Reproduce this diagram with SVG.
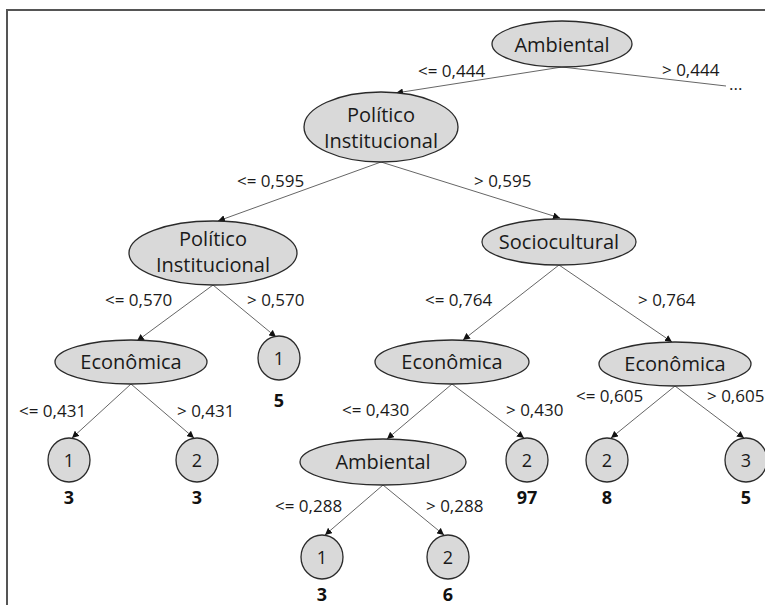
<svg xmlns="http://www.w3.org/2000/svg" width="765" height="605" viewBox="0 0 765 605">
  <defs>
    <marker id="arrow" viewBox="0 0 10 10" refX="10" refY="5" markerWidth="7" markerHeight="7" markerUnits="userSpaceOnUse" orient="auto">
      <path d="M0,0 L10,5 L0,10 Z" fill="#111"/>
    </marker>
  </defs>
  <style>
    .node { fill: #d9d9d9; stroke: #2a2a2a; stroke-width: 1.3; }
    .lbl { font-family: "Open Sans", "Noto Sans", sans-serif; font-size: 20px; fill: #1a1a1a; text-anchor: middle; }
    .leaf { font-family: "Open Sans", "Noto Sans", sans-serif; font-size: 18px; fill: #1a1a1a; text-anchor: middle; }
    .cnt { font-family: "Open Sans", "Noto Sans", sans-serif; font-size: 18px; font-weight: bold; fill: #111; text-anchor: middle; }
    .cond { font-family: "Open Sans", "Noto Sans", sans-serif; font-size: 17px; fill: #1a1a1a; }
    .edge { stroke: #666; stroke-width: 1; fill: none; }
    .arr { marker-end: url(#arrow); }
  </style>
  <rect width="765" height="605" fill="#fff"/>
  <!-- frame -->
  <path d="M7,605 L7,10 L765,10" fill="none" stroke="#555" stroke-width="2"/>

  <g id="connectors">
    <line class="edge arr" x1="562" y1="67" x2="396" y2="93"/>
    <line class="edge" x1="562" y1="67" x2="726" y2="86"/>
    <line class="edge arr" x1="381" y1="162" x2="218" y2="221"/>
    <line class="edge arr" x1="381" y1="162" x2="560" y2="218"/>
    <line class="edge arr" x1="213" y1="285" x2="137" y2="341"/>
    <line class="edge arr" x1="213" y1="285" x2="276" y2="337"/>
    <line class="edge arr" x1="559" y1="265" x2="463" y2="340"/>
    <line class="edge arr" x1="559" y1="265" x2="672" y2="342"/>
    <line class="edge arr" x1="131" y1="384" x2="72" y2="438"/>
    <line class="edge arr" x1="131" y1="384" x2="194" y2="438"/>
    <line class="edge arr" x1="452" y1="384" x2="387" y2="439"/>
    <line class="edge arr" x1="452" y1="384" x2="524" y2="438"/>
    <line class="edge arr" x1="675" y1="386" x2="611" y2="438"/>
    <line class="edge arr" x1="675" y1="386" x2="744" y2="438"/>
    <line class="edge arr" x1="383" y1="485" x2="325" y2="535"/>
    <line class="edge arr" x1="383" y1="485" x2="444" y2="535"/>
  </g>

  <g id="conditions">
    <text class="cond" x="418" y="77">&lt;= 0,444</text>
    <text class="cond" x="662" y="76">&gt; 0,444</text>
    <text class="cond" x="729" y="90">...</text>
    <text class="cond" x="237" y="187">&lt;= 0,595</text>
    <text class="cond" x="474" y="187">&gt; 0,595</text>
    <text class="cond" x="105" y="306">&lt;= 0,570</text>
    <text class="cond" x="247" y="306">&gt; 0,570</text>
    <text class="cond" x="425" y="306">&lt;= 0,764</text>
    <text class="cond" x="638" y="306">&gt; 0,764</text>
    <text class="cond" x="19" y="417">&lt;= 0,431</text>
    <text class="cond" x="177" y="417">&gt; 0,431</text>
    <text class="cond" x="342" y="416">&lt;= 0,430</text>
    <text class="cond" x="506" y="416">&gt; 0,430</text>
    <text class="cond" x="576" y="402">&lt;= 0,605</text>
    <text class="cond" x="707" y="402">&gt; 0,605</text>
    <text class="cond" x="275" y="512">&lt;= 0,288</text>
    <text class="cond" x="426" y="512">&gt; 0,288</text>
  </g>

  <g id="n-ambiental-root">
    <ellipse class="node" cx="562" cy="44" rx="70" ry="23"/>
    <text class="lbl" x="562" y="52">Ambiental</text>
  </g>
  <g id="n-politico-1">
    <ellipse class="node" cx="381" cy="127" rx="77" ry="35"/>
    <text class="lbl" x="381" y="122">Político</text>
    <text class="lbl" x="381" y="148">Institucional</text>
  </g>
  <g id="n-politico-2">
    <ellipse class="node" cx="213" cy="253" rx="84" ry="32"/>
    <text class="lbl" x="213" y="246">Político</text>
    <text class="lbl" x="213" y="272">Institucional</text>
  </g>
  <g id="n-sociocultural">
    <ellipse class="node" cx="559" cy="242" rx="77" ry="23"/>
    <text class="lbl" x="559" y="249">Sociocultural</text>
  </g>
  <g id="n-economica-left">
    <ellipse class="node" cx="131" cy="362" rx="76" ry="22"/>
    <text class="lbl" x="131" y="369">Econômica</text>
  </g>
  <g id="n-economica-mid">
    <ellipse class="node" cx="452" cy="362" rx="77" ry="22"/>
    <text class="lbl" x="452" y="369">Econômica</text>
  </g>
  <g id="n-economica-right">
    <ellipse class="node" cx="675" cy="364" rx="76" ry="22"/>
    <text class="lbl" x="675" y="371">Econômica</text>
  </g>
  <g id="n-ambiental-2">
    <ellipse class="node" cx="383" cy="462" rx="83" ry="23"/>
    <text class="lbl" x="383" y="469">Ambiental</text>
  </g>

  <g id="leaf-a">
    <ellipse class="node" cx="279" cy="358" rx="21" ry="22"/>
    <text class="leaf" x="279" y="365">1</text>
    <text class="cnt" x="279" y="407">5</text>
  </g>
  <g id="leaf-b">
    <ellipse class="node" cx="69" cy="460" rx="21" ry="22"/>
    <text class="leaf" x="69" y="467">1</text>
    <text class="cnt" x="69" y="504">3</text>
  </g>
  <g id="leaf-c">
    <ellipse class="node" cx="197" cy="460" rx="21" ry="22"/>
    <text class="leaf" x="197" y="467">2</text>
    <text class="cnt" x="197" y="504">3</text>
  </g>
  <g id="leaf-d">
    <ellipse class="node" cx="527" cy="460" rx="21" ry="22"/>
    <text class="leaf" x="527" y="467">2</text>
    <text class="cnt" x="527" y="504">97</text>
  </g>
  <g id="leaf-e">
    <ellipse class="node" cx="607" cy="460" rx="21" ry="22"/>
    <text class="leaf" x="607" y="467">2</text>
    <text class="cnt" x="607" y="504">8</text>
  </g>
  <g id="leaf-f">
    <ellipse class="node" cx="746" cy="460" rx="21" ry="22"/>
    <text class="leaf" x="746" y="467">3</text>
    <text class="cnt" x="746" y="504">5</text>
  </g>
  <g id="leaf-g">
    <ellipse class="node" cx="322" cy="557" rx="21" ry="22"/>
    <text class="leaf" x="322" y="564">1</text>
    <text class="cnt" x="322" y="601">3</text>
  </g>
  <g id="leaf-h">
    <ellipse class="node" cx="448" cy="557" rx="21" ry="22"/>
    <text class="leaf" x="448" y="564">2</text>
    <text class="cnt" x="448" y="601">6</text>
  </g>
</svg>
